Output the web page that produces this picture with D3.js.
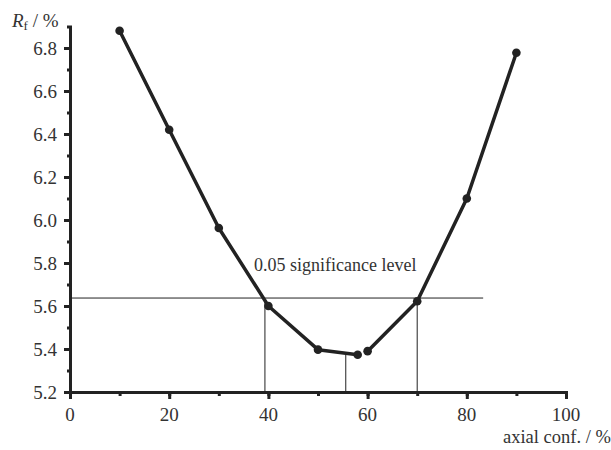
<!DOCTYPE html>
<html>
<head>
<meta charset="utf-8">
<script src="https://cdn.jsdelivr.net/npm/d3@7"></script>
<style>
  body { margin: 0; background: #fff; }
</style>
</head>
<body>
<svg id="chart" width="611" height="450"></svg>
<script>
// data
const axialConf = [10, 20, 30, 40, 50, 58, 60, 70, 80, 90];
const rFree = [6.88, 6.42, 5.963, 5.6, 5.397, 5.373, 5.39, 5.622, 6.10, 6.778];
const breakAfter = 58;          // the curve has a gap between 58 and 60
const sigLevel = 5.637;         // 0.05 significance level
const sigEnd = 83.3;
const sigDrops = [39.3, 55.6, 70.0];
const xTicks = [0, 20, 40, 60, 80, 100];
const yTicks = [5.2, 5.4, 5.6, 5.8, 6.0, 6.2, 6.4, 6.6, 6.8];

const serif = '"Liberation Serif", "Times New Roman", serif';
const ink = "#222";
const textInk = "#333";

const svg = d3.select("#chart");
const x = d3.scaleLinear().domain([0, 100]).range([70, 566]);
const y = d3.scaleLinear().domain([5.2, 6.8]).range([392, 48]);

// axes
const xAxis = svg.append("g").attr("transform", `translate(0,${y(5.2)})`);
xAxis.call(d3.axisBottom(x).tickValues(d3.range(0, 101, 10)).tickSize(4).tickFormat(""));
xAxis.append("g").call(d3.axisBottom(x).tickValues(xTicks).tickSize(7).tickFormat(""))
  .select(".domain").remove();
xAxis.selectAll(".domain").attr("stroke", ink).attr("stroke-width", 3);
xAxis.selectAll(".tick line").attr("stroke", ink).attr("stroke-width", 3);
svg.selectAll(".xl").data(xTicks).join("text")
  .attr("class", "xl")
  .attr("x", d => x(d)).attr("y", y(5.2) + 29)
  .attr("text-anchor", "middle")
  .attr("font-family", serif).attr("font-size", 19).attr("fill", textInk)
  .text(d => d);

const yTop = 6.9;
const yAxis = svg.append("g").attr("transform", `translate(${x(0)},0)`);
yAxis.call(d3.axisLeft(y.copy().domain([5.2, yTop]).range([y(5.2), y(yTop)]))
  .tickValues(d3.range(52, 69, 1).map(v => v / 10)).tickSize(3).tickFormat(""));
yAxis.append("g").call(d3.axisLeft(y).tickValues(yTicks).tickSize(6).tickFormat(""))
  .select(".domain").remove();
yAxis.selectAll(".domain").attr("stroke", ink).attr("stroke-width", 3);
yAxis.selectAll(".tick line").attr("stroke", ink).attr("stroke-width", 3);
svg.selectAll(".yl").data(yTicks).join("text")
  .attr("class", "yl")
  .attr("x", x(0) - 13).attr("y", d => y(d)).attr("dy", "0.35em")
  .attr("text-anchor", "end")
  .attr("font-family", serif).attr("font-size", 19).attr("fill", textInk)
  .text(d => d.toFixed(1));

// significance level lines
svg.append("line")
  .attr("x1", x(0)).attr("x2", x(sigEnd))
  .attr("y1", y(sigLevel)).attr("y2", y(sigLevel))
  .attr("stroke", ink).attr("stroke-width", 1);
const pts = axialConf.map((d, i) => ({x: d, y: rFree[i]}));
const curveAt = v => {
  const i = d3.bisector(d => d.x).right(pts, v);
  const a = pts[i - 1], b = pts[i];
  return a.y + (b.y - a.y) * (v - a.x) / (b.x - a.x);
};
svg.selectAll(".drop").data(sigDrops).join("line")
  .attr("class", "drop")
  .attr("x1", d => x(d)).attr("x2", d => x(d))
  .attr("y1", d => y(Math.min(sigLevel, curveAt(d)))).attr("y2", y(5.2))
  .attr("stroke", ink).attr("stroke-width", 1);

svg.append("text")
  .attr("x", 254).attr("y", 271)
  .attr("font-family", serif).attr("font-size", 18).attr("fill", textInk)
  .text("0.05 significance level");

// curve
const line = d3.line().x(d => x(d.x)).y(d => y(d.y));
[pts.filter(d => d.x <= breakAfter), pts.filter(d => d.x > breakAfter)].forEach(seg => {
  svg.append("path").datum(seg).attr("d", line)
    .attr("fill", "none").attr("stroke", ink).attr("stroke-width", 3.5)
    .attr("stroke-linejoin", "round");
});
svg.selectAll(".dot").data(pts).join("circle")
  .attr("class", "dot")
  .attr("cx", d => x(d.x)).attr("cy", d => y(d.y)).attr("r", 4.3)
  .attr("fill", ink);

// axis titles
const yt = svg.append("text").attr("x", 12).attr("y", 27)
  .attr("font-family", serif).attr("font-size", 19).attr("fill", textInk);
yt.append("tspan").attr("font-style", "italic").text("R");
yt.append("tspan").attr("font-size", 13).attr("dy", 3).text("f");
yt.append("tspan").attr("dy", -3).text(" / %");

svg.append("text").attr("x", 503).attr("y", 443)
  .attr("font-family", serif).attr("font-size", 18.5).attr("fill", textInk)
  .text("axial conf. / %");
</script>
</body>
</html>
